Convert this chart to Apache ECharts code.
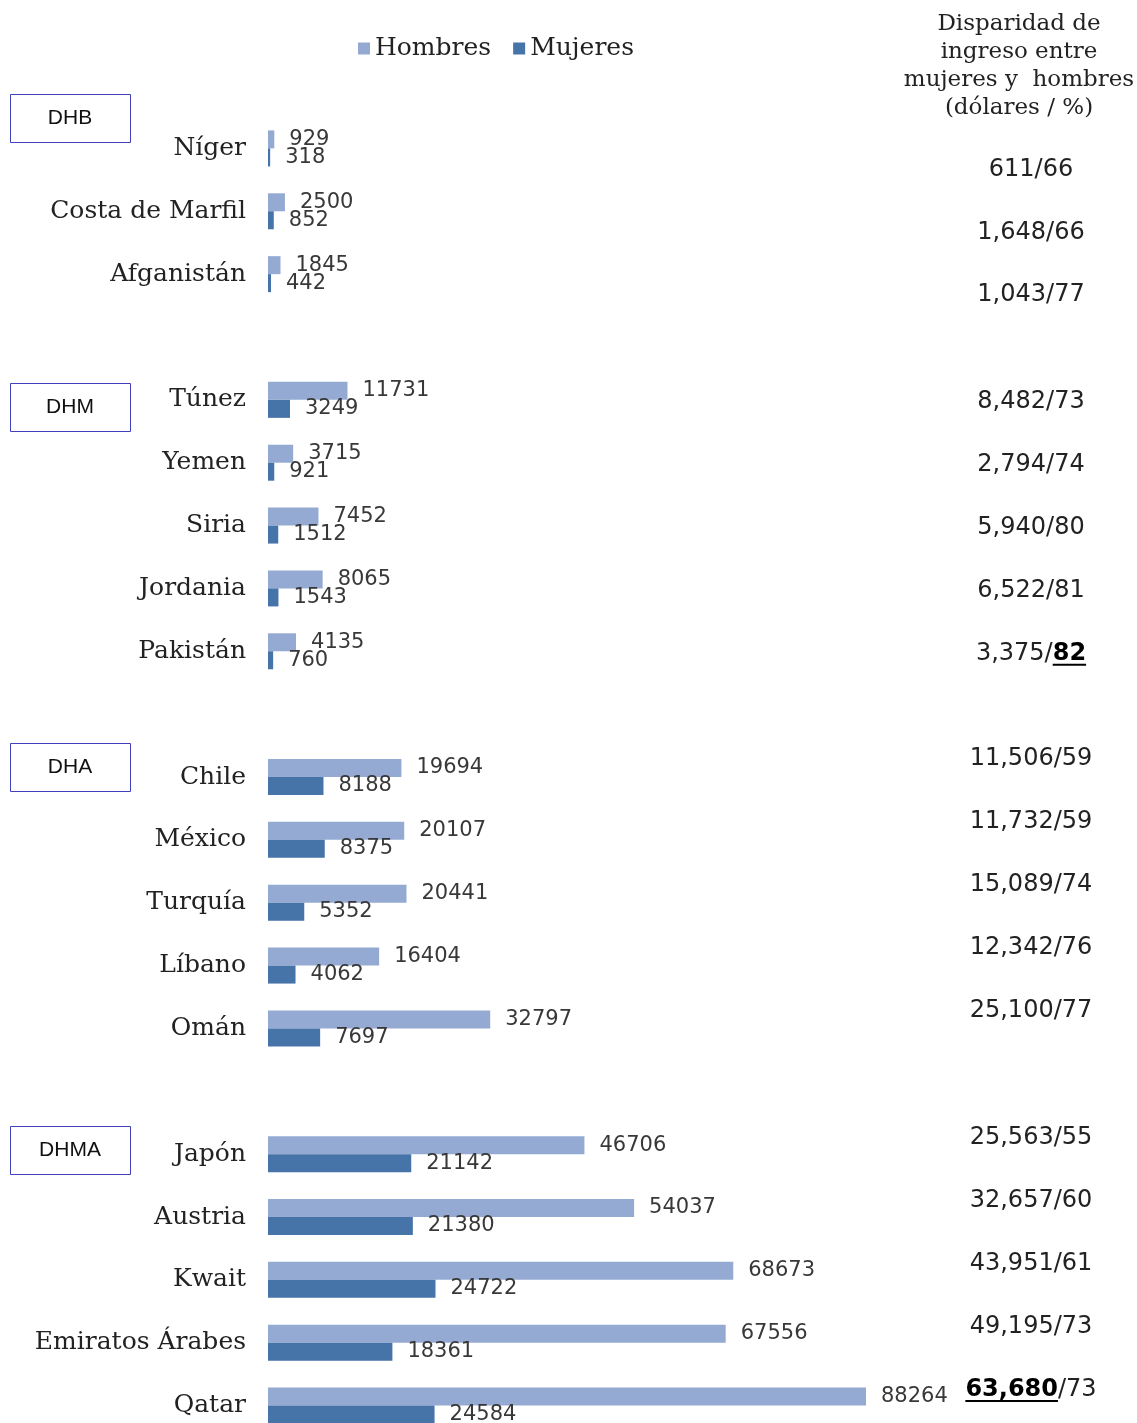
<!DOCTYPE html>
<html>
<head>
<meta charset="utf-8">
<script src="https://cdn.jsdelivr.net/npm/echarts@6/dist/echarts.min.js"></script>
<style>
  html, body { margin: 0; padding: 0; background: #fff; overflow: hidden; }
  #chart { width: 1137px; height: 1440px; }
</style>
</head>
<body>
<div id="chart"></div>
<script>
// rows, top to bottom; blank rows separate the groups
const countries = ['Níger', 'Costa de Marfil', 'Afganistán', ' ',
  'Túnez', 'Yemen', 'Siria', 'Jordania', 'Pakistán', '  ',
  'Chile', 'México', 'Turquía', 'Líbano', 'Omán', '   ',
  'Japón', 'Austria', 'Kwait', 'Emiratos Árabes', 'Qatar']

const hombres = [929, 2500, 1845, null,
  11731, 3715, 7452, 8065, 4135, null,
  19694, 20107, 20441, 16404, 32797, null,
  46706, 54037, 68673, 67556, 88264]

const mujeres = [318, 852, 442, null,
  3249, 921, 1512, 1543, 760, null,
  8188, 8375, 5352, 4062, 7697, null,
  21142, 21380, 24722, 18361, 24584]

// disparity column: dollars / percent (third item marks the bold underlined part)
const disparidad = [
  ['611', '66'], ['1,648', '66'], ['1,043', '77'], null,
  ['8,482', '73'], ['2,794', '74'], ['5,940', '80'], ['6,522', '81'], ['3,375', '82', 'pct'], null,
  ['11,506', '59'], ['11,732', '59'], ['15,089', '74'], ['12,342', '76'], ['25,100', '77'], null,
  ['25,563', '55'], ['32,657', '60'], ['43,951', '61'], ['49,195', '73'], ['63,680', '73', 'usd']
]

const groups = ['DHB', 'DHM', 'DHA', 'DHMA']

const colHombres = '#95aad3'
const colMujeres = '#4673a8'
const serif = '"DejaVu Serif", serif'
const sans = '"DejaVu Sans", Verdana, sans-serif'

const chart = echarts.init(document.getElementById('chart'))

const valueLabel = {
  show: true,
  position: 'right',
  distance: 15,
  fontFamily: sans,
  fontSize: 21,
  color: '#383838'
}

chart.setOption({
  animation: false,
  legend: {
    data: ['Hombres', 'Mujeres'],
    left: 353,
    top: 31,
    itemWidth: 12,
    itemHeight: 12,
    itemGap: 22,
    icon: 'rect',
    textStyle: { fontFamily: serif, fontSize: 25, color: '#222' }
  },
  grid: { left: 268, top: 117, width: 677.5, height: 1320 },
  xAxis: {
    type: 'value',
    min: 0,
    max: 100000,
    show: false
  },
  yAxis: {
    type: 'category',
    data: countries,
    inverse: true,
    axisLine: { show: false },
    axisTick: { show: false },
    axisLabel: {
      margin: 22,
      fontFamily: serif,
      fontSize: 25,
      color: '#222'
    }
  },
  series: [
    {
      name: 'Hombres',
      type: 'bar',
      data: hombres,
      barWidth: 18,
      barGap: '0%',
      itemStyle: { color: colHombres },
      label: valueLabel
    },
    {
      name: 'Mujeres',
      type: 'bar',
      data: mujeres,
      barWidth: 18,
      barGap: '0%',
      itemStyle: { color: colMujeres },
      label: valueLabel
    }
  ]
})

// annotations: header, group boxes and the disparity column
const graphics = []

const header = ['Disparidad de', 'ingreso entre', 'mujeres y  hombres', '(dólares / %)']
header.forEach((t, i) => {
  graphics.push({
    type: 'text', x: 1019, y: 24 + i * 28,
    style: { text: t, fontFamily: serif, fontSize: 23, fill: '#222', align: 'center', verticalAlign: 'middle' }
  })
})

const boxTops = [94, 383, 743, 1126]
groups.forEach((g, i) => {
  graphics.push({
    type: 'rect', shape: { x: 10.5, y: boxTops[i] + 0.5, width: 120, height: 48 },
    style: { fill: '#fff', stroke: '#4040c0', lineWidth: 1 }
  })
  graphics.push({
    type: 'text', x: 70, y: boxTops[i] + 24,
    style: { text: g, fontFamily: '"Liberation Sans", Arial, sans-serif', fontSize: 21, fill: '#111', align: 'center', verticalAlign: 'middle' }
  })
})

// text measuring for the underline of the bold parts
const ctx = document.createElement('canvas').getContext('2d')
function textWidth(s, bold) {
  ctx.font = (bold ? 'bold ' : '') + '24px ' + sans
  return ctx.measureText(s).width
}

// vertical shift of the disparity text relative to each group's rows
const groupShift = [21, 2, -18, -16]
const colX = 1031
let grp = 0
disparidad.forEach((d, i) => {
  if (!d) { grp++; return }
  const y = chart.convertToPixel({ yAxisIndex: 0 }, i) + groupShift[grp]
  const parts = [
    { t: d[0], b: d[2] === 'usd' },
    { t: '/', b: false },
    { t: d[1], b: d[2] === 'pct' }
  ]
  const total = parts.reduce((s, p) => s + textWidth(p.t, p.b), 0)
  let x = colX - total / 2
  parts.forEach(p => {
    const w = textWidth(p.t, p.b)
    graphics.push({
      type: 'text', x: x, y: y,
      style: {
        text: p.t, fontFamily: sans, fontSize: 24,
        fontWeight: p.b ? 'bold' : 'normal', fill: p.b ? '#000' : '#222',
        align: 'left', verticalAlign: 'middle'
      }
    })
    if (p.b) {
      graphics.push({
        type: 'line', shape: { x1: x, y1: y + 11.5, x2: x + w, y2: y + 11.5 },
        style: { stroke: '#000', lineWidth: 2 }
      })
    }
    x += w
  })
})

chart.setOption({ graphic: graphics })
</script>
</body>
</html>
